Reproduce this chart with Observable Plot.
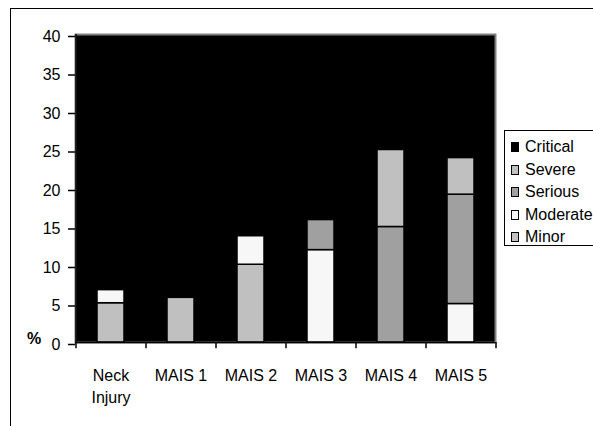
<!DOCTYPE html>
<html>
<head>
<meta charset="utf-8">
<script src="https://cdn.jsdelivr.net/npm/d3@7"></script>
<script src="https://cdn.jsdelivr.net/npm/@observablehq/plot@0.6"></script>
<style>
  html, body { margin: 0; padding: 0; background: #fff; }
  #wrap { position: relative; width: 593px; height: 426px; overflow: hidden; font-family: "Liberation Sans", Arial, sans-serif; }
  #outer { position: absolute; left: 10px; top: 8px; width: 640px; height: 480px; border: 1.5px solid #000; box-sizing: border-box; pointer-events: none; }
  #legend { position: absolute; left: 504px; top: 130px; width: 110px; height: 116px; border: 1.5px solid #000; box-sizing: border-box; overflow: hidden; background: #fff; }
  .item { position: absolute; left: 6px; font-size: 16px; line-height: 16px; color: #000; white-space: nowrap; }
  .sw { display: inline-block; width: 6px; height: 8px; border: 1.5px solid #000; margin-right: 6px; vertical-align: 0px; }
  #pct { position: absolute; left: 27px; top: 331px; font-size: 16px; line-height: 16px; font-weight: bold; color: #000; }
  svg { position: absolute; left: 0; top: 0; }
</style>
</head>
<body>
<div id="wrap">
  <div id="chart"></div>
  <div id="outer"></div>
  <div id="legend"></div>
  <div id="pct">%</div>
</div>
<script>
const categories = ["Neck\nInjury", "MAIS 1", "MAIS 2", "MAIS 3", "MAIS 4", "MAIS 5"];
const severities = ["Minor", "Moderate", "Serious", "Severe", "Critical"];
const legendOrder = ["Critical", "Severe", "Serious", "Moderate", "Minor"];
const colors = ["#c0c0c0", "#f7f7f7", "#a0a0a0", "#c0c0c0", "#000000"];
const minor    = [5.1, 5.8, 10.1, 0,    0,    0];
const moderate = [1.7, 0,   3.7,  12.0, 0,    5.0];
const serious  = [0,   0,   0,    3.9,  15.0, 14.2];
const severe   = [0,   0,   0,    0,    10.0, 4.75];
const critical = [0,   0,   0,    0,    0,    0];
const yTicks = [0, 5, 10, 15, 20, 25, 30, 35, 40];

const series = [minor, moderate, serious, severe, critical];
const rows = [];
severities.forEach((s, si) => {
  categories.forEach((c, ci) => {
    rows.push({category: c, severity: s, value: series[si][ci]});
  });
});
const data = rows.filter(d => d.value > 0);

const W = 593, H = 426, mL = 75, mR = 98, mT = 34, mB = 84;
const step = (W - mL - mR) / categories.length;

const chart = Plot.plot({
  width: W,
  height: H,
  marginLeft: mL,
  marginRight: mR,
  marginTop: mT,
  marginBottom: mB,
  style: {fontFamily: "'Liberation Sans', Arial, sans-serif", fontSize: "16px", color: "#000", background: "transparent"},
  x: {domain: categories, paddingInner: 0.62, paddingOuter: 0.31, axis: null},
  y: {domain: [0, 40], axis: null},
  color: {domain: severities, range: colors},
  marks: [
    Plot.frame({fill: "#000", stroke: "#808080", strokeWidth: 2}),
    Plot.barY(data, {x: "category", y: "value", z: "severity", fill: "severity", order: severities, stroke: "#000", strokeWidth: 1.5}),
    Plot.ruleY([0], {stroke: "#000", strokeWidth: 1.5}),
    Plot.ruleX([categories[0]], {dx: -step / 2, stroke: "#000", strokeWidth: 1.5}),
    Plot.ruleX(categories, {dx: -step / 2, y1: 0, y2: -0.8, stroke: "#000", strokeWidth: 1.5}),
    Plot.ruleX([categories[categories.length - 1]], {dx: step / 2, y1: 0, y2: -0.8, stroke: "#000", strokeWidth: 1.5}),
    Plot.axisY({ticks: yTicks, label: null, tickSize: 7, tickPadding: 8, fontSize: 16, dy: 2, stroke: "#000", strokeWidth: 1.5}),
    Plot.text(categories, {x: d => d, y: 0, dy: 24, lineAnchor: "top", lineHeight: 1.32, fontSize: 16, fill: "#000"})
  ]
});
document.getElementById("chart").appendChild(chart);

const legend = document.getElementById("legend");
legendOrder.forEach((s, i) => {
  const div = document.createElement("div");
  div.className = "item";
  div.style.top = (8 + i * 22.5) + "px";
  const sw = document.createElement("span");
  sw.className = "sw";
  sw.style.background = colors[severities.indexOf(s)];
  div.appendChild(sw);
  div.appendChild(document.createTextNode(s));
  legend.appendChild(div);
});
</script>
</body>
</html>
